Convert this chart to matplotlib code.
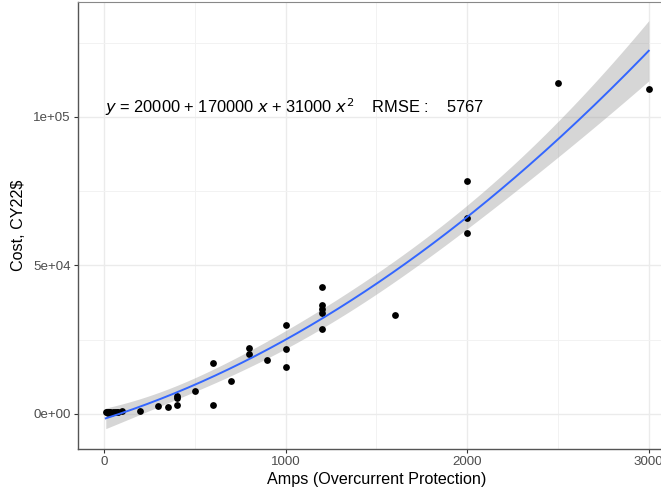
import numpy as np
import matplotlib
matplotlib.use('Agg')
import matplotlib.pyplot as plt

plt.rcParams['font.family'] = ['Liberation Sans', 'DejaVu Sans']

# Data: amps vs cost (CY22$)
amps = [10, 15, 20, 25, 30, 35, 40, 50, 60, 70, 80, 100, 200, 300, 350, 400, 400, 400,
        500, 600, 600, 700, 800, 800, 900, 1000, 1000, 1000,
        1200, 1200, 1200, 1200, 1200, 1600, 2000, 2000, 2000, 2500, 3000]
cost = [500, 600, 400, 500, 700, 600, 400, 800, 600, 500, 700, 900, 1000, 2800, 2500, 3000, 5500, 6000,
        7700, 17000, 3100, 11200, 22300, 20200, 18200, 30000, 21800, 15800,
        42800, 36600, 35500, 33900, 28700, 33300, 78600, 65900, 60800, 111300, 109300]

x_ticks = [0, 1000, 2000, 3000]
x_minor = [500, 1500, 2500]
y_ticks = [0, 50000, 100000]
y_minor = [25000, 75000, 125000]
y_labels = ['0e+00', '5e+04', '1e+05']
equation = r'$y$ = 20000 + 170000 $x$ + 31000 $x^2$    RMSE :    5767'

x = np.array(amps, dtype=float)
y = np.array(cost, dtype=float)

# quadratic fit with 95% confidence band (like geom_smooth)
X = np.column_stack([np.ones_like(x), x, x ** 2])
beta, res, rank, sv = np.linalg.lstsq(X, y, rcond=None)
resid = y - X @ beta
dof = len(x) - 3
s2 = resid @ resid / dof
cov = s2 * np.linalg.inv(X.T @ X)
xs = np.linspace(x.min(), x.max(), 200)
Xs = np.column_stack([np.ones_like(xs), xs, xs ** 2])
fit = Xs @ beta
se = np.sqrt(np.einsum('ij,jk,ik->i', Xs, cov, Xs))
t = 2.03

fig = plt.figure(figsize=(6.61, 4.96), dpi=100)
ax = fig.add_axes([78 / 661, 1 - 449 / 496, 598 / 661, 447 / 496])

ax.fill_between(xs, fit - t * se, fit + t * se, color='#999999', alpha=0.4, lw=0, zorder=2)
ax.scatter(x, y, s=24, color='black', zorder=3, linewidths=0)
ax.plot(xs, fit, color='#3366FF', lw=1.4, zorder=4)

ax.text(5, 103400, equation, fontsize=11.8, ha='left', va='center', zorder=5)

ax.set_xlim(-143, 3150)
ax.set_ylim(-11800, 138700)
ax.set_xticks(x_ticks)
ax.set_xticks(x_minor, minor=True)
ax.set_yticks(y_ticks)
ax.set_yticks(y_minor, minor=True)
ax.set_yticklabels(y_labels)
ax.grid(True, which='major', color='#EBEBEB', lw=1.0, zorder=0)
ax.grid(True, which='minor', color='#F2F2F2', lw=0.7, zorder=0)
ax.set_axisbelow(True)
ax.tick_params(which='major', direction='out', length=3, width=0.8, color='#333333',
               labelcolor='#4D4D4D', labelsize=9.6, pad=2)
ax.tick_params(which='minor', length=0)

for side in ['left', 'bottom']:
    ax.spines[side].set_color('#555555')
    ax.spines[side].set_linewidth(1.0)
ax.spines['top'].set_color('#888888')
ax.spines['top'].set_linewidth(0.8)
ax.spines['right'].set_visible(False)

ax.set_xlabel('Amps (Overcurrent Protection)', fontsize=11.6, labelpad=3)
ax.set_ylabel('Cost, CY22$', fontsize=11.6, labelpad=5)

fig.savefig('out.png', dpi=100)
